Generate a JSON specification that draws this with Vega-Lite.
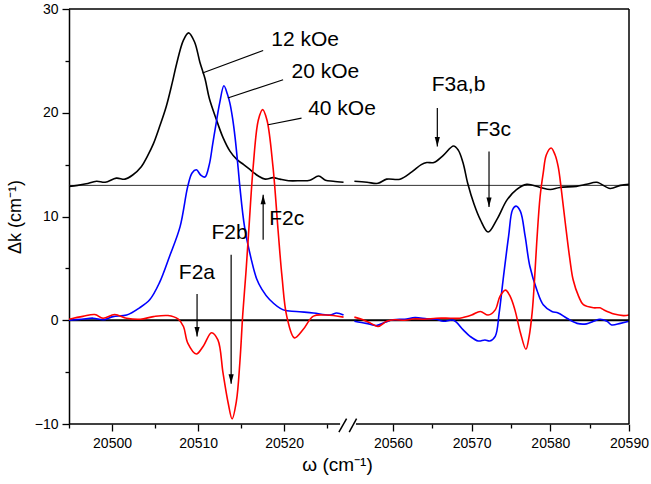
{
  "$schema": "https://vega.github.io/schema/vega-lite/v6.json",
  "width": 560,
  "height": 415,
  "autosize": "none",
  "padding": {"left": 69, "top": 9, "right": 22, "bottom": 60},
  "background": "white",
  "config": {
    "view": {"stroke": null},
    "font": "Liberation Sans",
    "axis": {"labelFont": "Liberation Sans", "titleFont": "Liberation Sans"}
  },
  "datasets": {
    "curves": [
      {"s":"12 kOe","g":"L","x":20495.0,"y":12.9},
      {"s":"12 kOe","g":"L","x":20496.0,"y":13.0},
      {"s":"12 kOe","g":"L","x":20497.0,"y":13.15},
      {"s":"12 kOe","g":"L","x":20498.2,"y":13.4},
      {"s":"12 kOe","g":"L","x":20499.2,"y":13.3},
      {"s":"12 kOe","g":"L","x":20500.5,"y":13.7},
      {"s":"12 kOe","g":"L","x":20501.5,"y":13.6},
      {"s":"12 kOe","g":"L","x":20502.4,"y":14.0},
      {"s":"12 kOe","g":"L","x":20503.4,"y":14.8},
      {"s":"12 kOe","g":"L","x":20504.1,"y":15.8},
      {"s":"12 kOe","g":"L","x":20504.8,"y":17.0},
      {"s":"12 kOe","g":"L","x":20505.5,"y":18.6},
      {"s":"12 kOe","g":"L","x":20506.3,"y":20.6},
      {"s":"12 kOe","g":"L","x":20507.0,"y":22.9},
      {"s":"12 kOe","g":"L","x":20507.5,"y":24.7},
      {"s":"12 kOe","g":"L","x":20508.3,"y":27.0},
      {"s":"12 kOe","g":"L","x":20508.9,"y":27.7},
      {"s":"12 kOe","g":"L","x":20509.6,"y":26.8},
      {"s":"12 kOe","g":"L","x":20510.2,"y":24.9},
      {"s":"12 kOe","g":"L","x":20510.8,"y":23.3},
      {"s":"12 kOe","g":"L","x":20511.3,"y":21.4},
      {"s":"12 kOe","g":"L","x":20512.1,"y":19.4},
      {"s":"12 kOe","g":"L","x":20512.9,"y":17.6},
      {"s":"12 kOe","g":"L","x":20513.7,"y":16.3},
      {"s":"12 kOe","g":"L","x":20514.5,"y":15.5},
      {"s":"12 kOe","g":"L","x":20515.3,"y":15.0},
      {"s":"12 kOe","g":"L","x":20516.2,"y":14.4},
      {"s":"12 kOe","g":"L","x":20517.0,"y":13.9},
      {"s":"12 kOe","g":"L","x":20517.8,"y":13.6},
      {"s":"12 kOe","g":"L","x":20518.7,"y":13.75},
      {"s":"12 kOe","g":"L","x":20519.5,"y":13.6},
      {"s":"12 kOe","g":"L","x":20520.5,"y":13.45},
      {"s":"12 kOe","g":"L","x":20521.8,"y":13.45},
      {"s":"12 kOe","g":"L","x":20523.0,"y":13.5},
      {"s":"12 kOe","g":"L","x":20524.0,"y":13.9},
      {"s":"12 kOe","g":"L","x":20524.8,"y":13.5},
      {"s":"12 kOe","g":"L","x":20525.7,"y":13.4},
      {"s":"12 kOe","g":"L","x":20526.9,"y":13.3},
      {"s":"12 kOe","g":"R","x":20555.1,"y":13.4},
      {"s":"12 kOe","g":"R","x":20556.7,"y":13.3},
      {"s":"12 kOe","g":"R","x":20558.1,"y":13.2},
      {"s":"12 kOe","g":"R","x":20559.2,"y":13.6},
      {"s":"12 kOe","g":"R","x":20560.9,"y":13.6},
      {"s":"12 kOe","g":"R","x":20562.4,"y":14.3},
      {"s":"12 kOe","g":"R","x":20563.6,"y":15.0},
      {"s":"12 kOe","g":"R","x":20564.3,"y":15.2},
      {"s":"12 kOe","g":"R","x":20565.2,"y":15.2},
      {"s":"12 kOe","g":"R","x":20566.4,"y":15.9},
      {"s":"12 kOe","g":"R","x":20567.7,"y":16.8},
      {"s":"12 kOe","g":"R","x":20568.3,"y":16.4},
      {"s":"12 kOe","g":"R","x":20568.9,"y":15.2},
      {"s":"12 kOe","g":"R","x":20569.5,"y":13.2},
      {"s":"12 kOe","g":"R","x":20570.3,"y":11.2},
      {"s":"12 kOe","g":"R","x":20571.1,"y":9.7},
      {"s":"12 kOe","g":"R","x":20572.1,"y":8.5},
      {"s":"12 kOe","g":"R","x":20573.2,"y":9.7},
      {"s":"12 kOe","g":"R","x":20574.5,"y":11.6},
      {"s":"12 kOe","g":"R","x":20575.7,"y":12.6},
      {"s":"12 kOe","g":"R","x":20577.0,"y":13.1},
      {"s":"12 kOe","g":"R","x":20578.7,"y":12.8},
      {"s":"12 kOe","g":"R","x":20580.0,"y":12.6},
      {"s":"12 kOe","g":"R","x":20581.2,"y":12.8},
      {"s":"12 kOe","g":"R","x":20583.3,"y":12.9},
      {"s":"12 kOe","g":"R","x":20584.6,"y":13.1},
      {"s":"12 kOe","g":"R","x":20585.9,"y":13.3},
      {"s":"12 kOe","g":"R","x":20587.6,"y":12.7},
      {"s":"12 kOe","g":"R","x":20588.9,"y":13.0},
      {"s":"12 kOe","g":"R","x":20590.0,"y":13.1},

      {"s":"20 kOe","g":"L","x":20495.0,"y":0.0},
      {"s":"20 kOe","g":"L","x":20496.5,"y":0.1},
      {"s":"20 kOe","g":"L","x":20497.8,"y":0.2},
      {"s":"20 kOe","g":"L","x":20499.0,"y":0.05},
      {"s":"20 kOe","g":"L","x":20500.1,"y":0.35},
      {"s":"20 kOe","g":"L","x":20501.7,"y":0.5},
      {"s":"20 kOe","g":"L","x":20503.2,"y":1.2},
      {"s":"20 kOe","g":"L","x":20504.4,"y":2.0},
      {"s":"20 kOe","g":"L","x":20505.5,"y":3.6},
      {"s":"20 kOe","g":"L","x":20506.7,"y":6.2},
      {"s":"20 kOe","g":"L","x":20507.9,"y":9.0},
      {"s":"20 kOe","g":"L","x":20508.8,"y":12.9},
      {"s":"20 kOe","g":"L","x":20509.3,"y":14.2},
      {"s":"20 kOe","g":"L","x":20509.8,"y":14.5},
      {"s":"20 kOe","g":"L","x":20510.3,"y":14.0},
      {"s":"20 kOe","g":"L","x":20510.8,"y":13.8},
      {"s":"20 kOe","g":"L","x":20511.3,"y":15.0},
      {"s":"20 kOe","g":"L","x":20511.7,"y":17.0},
      {"s":"20 kOe","g":"L","x":20512.1,"y":19.0},
      {"s":"20 kOe","g":"L","x":20512.5,"y":20.9},
      {"s":"20 kOe","g":"L","x":20513.0,"y":22.6},
      {"s":"20 kOe","g":"L","x":20513.4,"y":21.8},
      {"s":"20 kOe","g":"L","x":20513.7,"y":20.9},
      {"s":"20 kOe","g":"L","x":20514.0,"y":19.5},
      {"s":"20 kOe","g":"L","x":20514.3,"y":17.6},
      {"s":"20 kOe","g":"L","x":20514.65,"y":14.7},
      {"s":"20 kOe","g":"L","x":20514.85,"y":12.9},
      {"s":"20 kOe","g":"L","x":20515.4,"y":9.0},
      {"s":"20 kOe","g":"L","x":20516.2,"y":5.8},
      {"s":"20 kOe","g":"L","x":20516.8,"y":4.0},
      {"s":"20 kOe","g":"L","x":20517.4,"y":3.0},
      {"s":"20 kOe","g":"L","x":20518.3,"y":2.0},
      {"s":"20 kOe","g":"L","x":20519.9,"y":1.0},
      {"s":"20 kOe","g":"L","x":20521.4,"y":0.85},
      {"s":"20 kOe","g":"L","x":20523.4,"y":0.7},
      {"s":"20 kOe","g":"L","x":20525.3,"y":0.5},
      {"s":"20 kOe","g":"L","x":20526.1,"y":0.7},
      {"s":"20 kOe","g":"L","x":20526.9,"y":0.5},
      {"s":"20 kOe","g":"R","x":20555.1,"y":-0.1},
      {"s":"20 kOe","g":"R","x":20556.6,"y":-0.3},
      {"s":"20 kOe","g":"R","x":20557.9,"y":-0.5},
      {"s":"20 kOe","g":"R","x":20559.0,"y":-0.2},
      {"s":"20 kOe","g":"R","x":20560.0,"y":0.05},
      {"s":"20 kOe","g":"R","x":20561.5,"y":0.1},
      {"s":"20 kOe","g":"R","x":20562.8,"y":0.25},
      {"s":"20 kOe","g":"R","x":20564.3,"y":0.15},
      {"s":"20 kOe","g":"R","x":20565.5,"y":0.1},
      {"s":"20 kOe","g":"R","x":20566.4,"y":-0.1},
      {"s":"20 kOe","g":"R","x":20567.7,"y":0.0},
      {"s":"20 kOe","g":"R","x":20568.9,"y":-0.9},
      {"s":"20 kOe","g":"R","x":20569.8,"y":-1.55},
      {"s":"20 kOe","g":"R","x":20570.85,"y":-2.0},
      {"s":"20 kOe","g":"R","x":20571.7,"y":-1.9},
      {"s":"20 kOe","g":"R","x":20572.3,"y":-2.0},
      {"s":"20 kOe","g":"R","x":20573.0,"y":-1.55},
      {"s":"20 kOe","g":"R","x":20573.5,"y":0.7},
      {"s":"20 kOe","g":"R","x":20574.0,"y":3.9},
      {"s":"20 kOe","g":"R","x":20574.7,"y":8.1},
      {"s":"20 kOe","g":"R","x":20575.2,"y":10.65},
      {"s":"20 kOe","g":"R","x":20575.65,"y":11.0},
      {"s":"20 kOe","g":"R","x":20576.2,"y":10.5},
      {"s":"20 kOe","g":"R","x":20576.8,"y":8.1},
      {"s":"20 kOe","g":"R","x":20577.4,"y":5.2},
      {"s":"20 kOe","g":"R","x":20578.3,"y":2.9},
      {"s":"20 kOe","g":"R","x":20579.1,"y":1.5},
      {"s":"20 kOe","g":"R","x":20580.2,"y":0.85},
      {"s":"20 kOe","g":"R","x":20581.0,"y":0.7},
      {"s":"20 kOe","g":"R","x":20582.1,"y":0.2},
      {"s":"20 kOe","g":"R","x":20583.4,"y":-0.3},
      {"s":"20 kOe","g":"R","x":20584.6,"y":-0.35},
      {"s":"20 kOe","g":"R","x":20585.5,"y":-0.1},
      {"s":"20 kOe","g":"R","x":20586.3,"y":0.1},
      {"s":"20 kOe","g":"R","x":20587.2,"y":-0.1},
      {"s":"20 kOe","g":"R","x":20587.8,"y":-0.45},
      {"s":"20 kOe","g":"R","x":20588.9,"y":-0.3},
      {"s":"20 kOe","g":"R","x":20590.0,"y":-0.1},

      {"s":"40 kOe","g":"L","x":20495.0,"y":0.1},
      {"s":"40 kOe","g":"L","x":20496.6,"y":0.37},
      {"s":"40 kOe","g":"L","x":20498.0,"y":0.55},
      {"s":"40 kOe","g":"L","x":20498.95,"y":0.2},
      {"s":"40 kOe","g":"L","x":20500.3,"y":0.55},
      {"s":"40 kOe","g":"L","x":20501.7,"y":0.2},
      {"s":"40 kOe","g":"L","x":20503.3,"y":0.1},
      {"s":"40 kOe","g":"L","x":20504.8,"y":0.35},
      {"s":"40 kOe","g":"L","x":20506.5,"y":0.45},
      {"s":"40 kOe","g":"L","x":20507.7,"y":0.1},
      {"s":"40 kOe","g":"L","x":20508.3,"y":-0.6},
      {"s":"40 kOe","g":"L","x":20508.8,"y":-2.2},
      {"s":"40 kOe","g":"L","x":20509.8,"y":-3.25},
      {"s":"40 kOe","g":"L","x":20510.6,"y":-2.5},
      {"s":"40 kOe","g":"L","x":20511.56,"y":-1.2},
      {"s":"40 kOe","g":"L","x":20512.3,"y":-1.9},
      {"s":"40 kOe","g":"L","x":20512.9,"y":-5.1},
      {"s":"40 kOe","g":"L","x":20513.5,"y":-8.0},
      {"s":"40 kOe","g":"L","x":20513.95,"y":-9.5},
      {"s":"40 kOe","g":"L","x":20514.45,"y":-7.8},
      {"s":"40 kOe","g":"L","x":20514.85,"y":-4.1},
      {"s":"40 kOe","g":"L","x":20515.2,"y":0.7},
      {"s":"40 kOe","g":"L","x":20515.55,"y":4.5},
      {"s":"40 kOe","g":"L","x":20515.9,"y":8.8},
      {"s":"40 kOe","g":"L","x":20516.4,"y":14.8},
      {"s":"40 kOe","g":"L","x":20517.0,"y":19.3},
      {"s":"40 kOe","g":"L","x":20517.5,"y":20.3},
      {"s":"40 kOe","g":"L","x":20518.0,"y":19.3},
      {"s":"40 kOe","g":"L","x":20518.7,"y":14.8},
      {"s":"40 kOe","g":"L","x":20519.3,"y":8.6},
      {"s":"40 kOe","g":"L","x":20519.75,"y":4.2},
      {"s":"40 kOe","g":"L","x":20520.3,"y":0.4},
      {"s":"40 kOe","g":"L","x":20521.2,"y":-1.7},
      {"s":"40 kOe","g":"L","x":20522.2,"y":-0.9},
      {"s":"40 kOe","g":"L","x":20523.4,"y":0.4},
      {"s":"40 kOe","g":"L","x":20524.9,"y":0.5},
      {"s":"40 kOe","g":"L","x":20526.9,"y":0.3},
      {"s":"40 kOe","g":"R","x":20555.1,"y":0.3},
      {"s":"40 kOe","g":"R","x":20556.2,"y":0.05},
      {"s":"40 kOe","g":"R","x":20557.2,"y":-0.3},
      {"s":"40 kOe","g":"R","x":20558.1,"y":-0.6},
      {"s":"40 kOe","g":"R","x":20559.2,"y":-0.1},
      {"s":"40 kOe","g":"R","x":20560.2,"y":0.05},
      {"s":"40 kOe","g":"R","x":20561.5,"y":0.0},
      {"s":"40 kOe","g":"R","x":20562.8,"y":0.15},
      {"s":"40 kOe","g":"R","x":20564.0,"y":0.1},
      {"s":"40 kOe","g":"R","x":20565.5,"y":0.2},
      {"s":"40 kOe","g":"R","x":20567.3,"y":0.2},
      {"s":"40 kOe","g":"R","x":20568.5,"y":0.2},
      {"s":"40 kOe","g":"R","x":20570.0,"y":0.5},
      {"s":"40 kOe","g":"R","x":20571.1,"y":0.85},
      {"s":"40 kOe","g":"R","x":20572.1,"y":0.5},
      {"s":"40 kOe","g":"R","x":20573.0,"y":1.0},
      {"s":"40 kOe","g":"R","x":20573.6,"y":2.3},
      {"s":"40 kOe","g":"R","x":20574.3,"y":2.9},
      {"s":"40 kOe","g":"R","x":20574.9,"y":2.3},
      {"s":"40 kOe","g":"R","x":20575.5,"y":1.0},
      {"s":"40 kOe","g":"R","x":20576.2,"y":-1.2},
      {"s":"40 kOe","g":"R","x":20576.9,"y":-2.8},
      {"s":"40 kOe","g":"R","x":20577.3,"y":-1.6},
      {"s":"40 kOe","g":"R","x":20577.7,"y":0.8},
      {"s":"40 kOe","g":"R","x":20578.0,"y":4.0},
      {"s":"40 kOe","g":"R","x":20578.3,"y":7.8},
      {"s":"40 kOe","g":"R","x":20578.7,"y":11.9},
      {"s":"40 kOe","g":"R","x":20579.1,"y":14.2},
      {"s":"40 kOe","g":"R","x":20579.5,"y":15.95},
      {"s":"40 kOe","g":"R","x":20580.1,"y":16.6},
      {"s":"40 kOe","g":"R","x":20580.6,"y":15.95},
      {"s":"40 kOe","g":"R","x":20581.0,"y":14.8},
      {"s":"40 kOe","g":"R","x":20581.4,"y":12.6},
      {"s":"40 kOe","g":"R","x":20581.9,"y":9.4},
      {"s":"40 kOe","g":"R","x":20582.5,"y":5.8},
      {"s":"40 kOe","g":"R","x":20582.9,"y":3.9},
      {"s":"40 kOe","g":"R","x":20583.6,"y":2.3},
      {"s":"40 kOe","g":"R","x":20584.2,"y":1.5},
      {"s":"40 kOe","g":"R","x":20585.5,"y":1.2},
      {"s":"40 kOe","g":"R","x":20586.3,"y":1.2},
      {"s":"40 kOe","g":"R","x":20586.8,"y":1.0},
      {"s":"40 kOe","g":"R","x":20588.1,"y":0.6},
      {"s":"40 kOe","g":"R","x":20589.3,"y":0.45},
      {"s":"40 kOe","g":"R","x":20590.0,"y":0.5}
    ],
    "labels": [
      {"t":"12 kOe","x":20518.5,"y":26.39},
      {"t":"20 kOe","x":20520.86,"y":23.34},
      {"t":"40 kOe","x":20522.79,"y":19.81},
      {"t":"F2a","x":20507.76,"y":3.97},
      {"t":"F2b","x":20511.56,"y":7.83},
      {"t":"F2c","x":20518.26,"y":9.2},
      {"t":"F3a,b","x":20564.92,"y":22.05},
      {"t":"F3c","x":20570.56,"y":17.72}
    ],
    "leaders": [
      {"x":20510.51,"y":23.83,"x2":20517.56,"y2":26.0},
      {"x":20513.45,"y":21.42,"x2":20519.88,"y2":23.18},
      {"x":20518.14,"y":18.84,"x2":20522.02,"y2":19.49}
    ],
    "arrows": [
      {"x":20509.88,"y":2.53,"y2":-1.56,"d":"down"},
      {"x":20513.84,"y":6.31,"y2":-6.12,"d":"down"},
      {"x":20517.56,"y":7.76,"y2":12.1,"d":"up"},
      {"x":20565.64,"y":20.45,"y2":16.75,"d":"down"},
      {"x":20572.21,"y":16.27,"y2":10.91,"d":"down"}
    ],
    "frame": [
      {"x":20495,"y":30,"x2":20590,"y2":30},
      {"x":20590,"y":-10,"x2":20590,"y2":30},
      {"x":20495,"y":-10,"x2":20526.5,"y2":-10},
      {"x":20555.3,"y":-10,"x2":20590,"y2":-10},
      {"x":20526.36,"y":-10.78,"x2":20533.7,"y2":-9.49},
      {"x":20541.6,"y":-10.78,"x2":20555.38,"y2":-9.49}
    ]
  },
  "encoding": {
    "x": {
      "field": "x",
      "type": "quantitative",
      "scale": {"domain": [20495, 20527, 20555, 20590], "range": [0, 275.4, 284.6, 560], "nice": false, "zero": false},
      "axis": {
        "values": [20495, 20500, 20505, 20510, 20515, 20520, 20525, 20560, 20565, 20570, 20575, 20580, 20585, 20590],
        "format": "d",
        "labelExpr": "datum.value % 10 === 0 ? datum.label : ''",
        "tickSize": {"condition": {"test": "datum.value % 10 === 0", "value": 7}, "value": 4},
        "tickColor": "black",
        "tickWidth": 1.3,
        "domain": false,
        "grid": false,
        "labelFontSize": 14,
        "labelColor": "black",
        "labelPadding": 5,
        "labelFlush": false,
        "labelOverlap": false,
        "title": "ω (cm⁻¹)",
        "titleFontSize": 19,
        "titleFontWeight": "normal",
        "titleColor": "black",
        "titlePadding": 5,
        "titleX": 268
      }
    },
    "y": {
      "field": "y",
      "type": "quantitative",
      "scale": {"domain": [-10, 30], "nice": false, "zero": false},
      "axis": {
        "values": [-10, -5, 0, 5, 10, 15, 20, 25, 30],
        "labelExpr": "datum.value % 10 === 0 ? datum.label : ''",
        "tickSize": {"condition": {"test": "datum.value % 10 === 0", "value": 7}, "value": 4},
        "tickColor": "black",
        "tickWidth": 1.3,
        "domain": true,
        "domainColor": "black",
        "domainWidth": 1.5,
        "grid": false,
        "labelFontSize": 14,
        "labelColor": "black",
        "labelPadding": 4,
        "labelFlush": false,
        "labelOverlap": false,
        "title": "Δk (cm⁻¹)",
        "titleFontSize": 18,
        "titleFontWeight": "normal",
        "titleColor": "black",
        "titlePadding": 10
      }
    }
  },
  "layer": [
    {
      "data": {"values": [{"x": 20495, "x2": 20590, "y": 13}]},
      "mark": {"type": "rule", "color": "#333333", "strokeWidth": 1},
      "encoding": {"x2": {"field": "x2"}}
    },
    {
      "data": {"values": [{"x": 20495, "x2": 20590, "y": 0}]},
      "mark": {"type": "rule", "color": "black", "strokeWidth": 2},
      "encoding": {"x2": {"field": "x2"}}
    },
    {
      "data": {"name": "curves"},
      "mark": {"type": "line", "interpolate": "catmull-rom", "strokeWidth": 1.6},
      "encoding": {
        "color": {"field": "s", "type": "nominal", "scale": {"domain": ["12 kOe", "20 kOe", "40 kOe"], "range": ["#000000", "#0000ff", "#ff0000"]}, "legend": null},
        "detail": {"field": "g"}
      }
    },
    {
      "data": {"name": "leaders"},
      "mark": {"type": "rule", "color": "black", "strokeWidth": 1.2},
      "encoding": {"x2": {"field": "x2"}, "y2": {"field": "y2"}}
    },
    {
      "data": {"name": "arrows"},
      "mark": {"type": "rule", "color": "black", "strokeWidth": 1.2},
      "encoding": {"y2": {"field": "y2"}}
    },
    {
      "data": {"name": "arrows"},
      "mark": {"type": "point", "filled": true, "size": 361, "color": "black", "opacity": 1, "strokeWidth": 0},
      "encoding": {
        "y": {"field": "y2", "type": "quantitative"},
        "shape": {"field": "d", "type": "nominal", "scale": {"domain": ["down", "up"], "range": ["M0,0L-0.27,-1L0.27,-1Z", "M0,0L-0.27,1L0.27,1Z"]}, "legend": null}
      }
    },
    {
      "data": {"name": "labels"},
      "mark": {"type": "text", "align": "left", "baseline": "alphabetic", "fontSize": 21, "font": "Liberation Sans", "color": "black"},
      "encoding": {"text": {"field": "t"}}
    },
    {
      "data": {"name": "frame"},
      "mark": {"type": "rule", "color": "black", "strokeWidth": 1.5},
      "encoding": {"x2": {"field": "x2"}, "y2": {"field": "y2"}}
    }
  ]
}
